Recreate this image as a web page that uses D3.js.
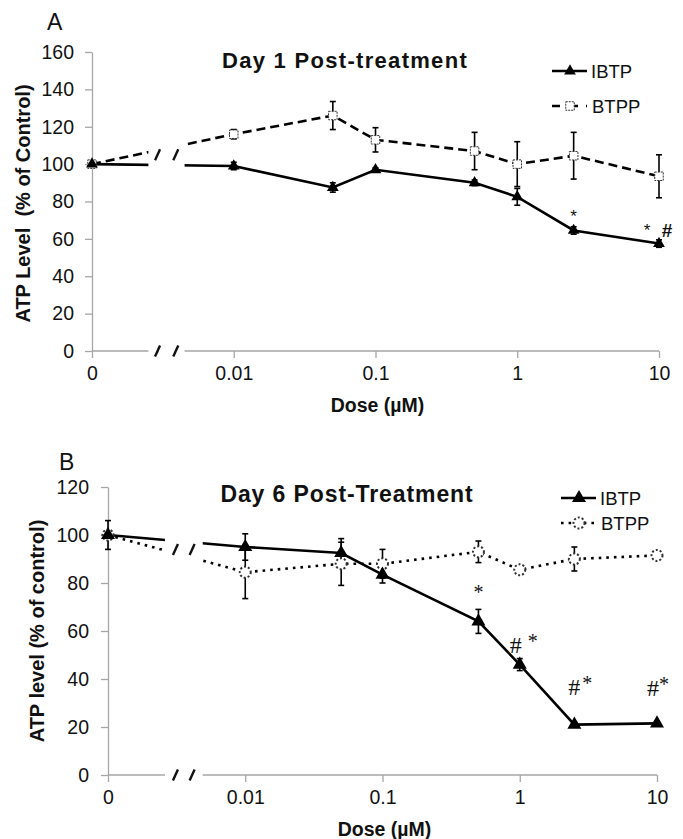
<!DOCTYPE html>
<html>
<head>
<meta charset="utf-8">
<script src="https://cdn.jsdelivr.net/npm/d3@7"></script>
<style>
  body { margin: 0; background: #fff; }
  text { font-family: "Liberation Sans", Arial, sans-serif; fill: #111; }
</style>
</head>
<body>
<div id="chart"></div>
<script>
var width = 683;
var height = 839;

// doses in uM; the "0" tick is drawn where 0.001 would sit on the log axis
var doses = [0, 0.01, 0.05, 0.1, 0.5, 1, 2.5, 10];
var xTicks = [0, 0.01, 0.1, 1, 10];
var xTickLabels = ["0", "0.01", "0.1", "1", "10"];

// Day 1
var ibtp1 = [100, 99, 87.5, 97, 90, 82.5, 64.5, 57.5];
var ibtp1Err = [0, 2, 2.5, 1, 1.5, 4.5, 2, 2];
var btpp1 = [100, 116, 126, 113, 107, 100, 104.5, 93.5];
var btpp1Err = [0, 2.5, 7.5, 6.5, 10, 12, 12.5, 11.5];
var yTicks1 = [0, 20, 40, 60, 80, 100, 120, 140, 160];

// Day 6
var ibtp6 = [100, 95, 92.5, 83.5, 64, 46, 21, 21.5];
var ibtp6Err = [1.5, 5.5, 6, 3.5, 5, 2.5, 1, 1];
var btpp6 = [100, 84.5, 88, 88, 93, 85.5, 90, 91.5];
var btpp6Err = [6, 11, 9, 6, 4.5, 1, 5, 1.5];
var yTicks6 = [0, 20, 40, 60, 80, 100, 120];

// significance marks: dose, text
var notes1 = [[2.5, "*"], [10, "*"]];
var notes6 = [[0.5, "*"], [1, "#"], [2.5, "#"], [10, "#"]];

var svg = d3
  .select("#chart")
  .append("svg")
  .attr("width", width)
  .attr("height", height);

function drawPanel(p) {
  var x = d3.scaleLog().domain([0.001, 10]).range([p.left, p.right]);
  var y = d3.scaleLinear().domain([0, p.yMax]).range([p.bottom, p.top]);
  var xd = function(d) { return d === 0 ? x(0.001) : x(d); };

  var g = svg.append("g");

  // y axis
  var yAxis = g.append("g")
    .attr("transform", "translate(" + p.left + ",0)")
    .call(d3.axisLeft(y).tickValues(p.yTicks).tickSize(7).tickSizeOuter(0).tickPadding(p.yPad));
  yAxis.select(".domain").attr("stroke", "#a6a6a6").attr("stroke-width", 1.3);
  yAxis.selectAll(".tick line").attr("stroke", "#a6a6a6").attr("stroke-width", 1.3);
  yAxis.selectAll(".tick text").style("font-size", "19.5px").attr("fill", "#111");

  // x axis, with a break between 0 and 0.01
  var xAxis = g.append("g")
    .attr("transform", "translate(0," + p.bottom + ")")
    .call(d3.axisBottom(x).tickValues(xTicks.map(function(d) { return d || 0.001; }))
      .tickFormat(function(d, i) { return xTickLabels[i]; })
      .tickSize(7).tickSizeOuter(0).tickPadding(8));
  xAxis.select(".domain").remove();
  xAxis.selectAll(".tick line").attr("stroke", "#a6a6a6").attr("stroke-width", 1.3);
  xAxis.selectAll(".tick text").style("font-size", "19.5px").attr("fill", "#111");
  [[0.001, p.gap[0]], [p.gap[1], 10]].forEach(function(s) {
    g.append("line")
      .attr("x1", x(s[0])).attr("x2", x(s[1]))
      .attr("y1", p.bottom).attr("y2", p.bottom)
      .attr("stroke", "#a6a6a6").attr("stroke-width", 1.3);
  });

  // clip lines at the break
  var clip = svg.append("clipPath").attr("id", p.id + "-clip");
  clip.append("rect").attr("x", 0).attr("y", 0)
    .attr("width", x(p.gap[0])).attr("height", height);
  clip.append("rect").attr("x", x(p.gap[1])).attr("y", 0)
    .attr("width", width).attr("height", height);

  var line = d3.line()
    .x(function(d, i) { return xd(doses[i]); })
    .y(function(d) { return y(d); });

  g.append("path")
    .datum(p.btpp)
    .attr("clip-path", "url(#" + p.id + "-clip)")
    .attr("d", line)
    .attr("fill", "none")
    .attr("stroke", "#000")
    .attr("stroke-width", p.btppWidth)
    .attr("stroke-dasharray", p.btppDash);

  g.append("path")
    .datum(p.ibtp)
    .attr("clip-path", "url(#" + p.id + "-clip)")
    .attr("d", line)
    .attr("fill", "none")
    .attr("stroke", "#000")
    .attr("stroke-width", 2.6);

  // break marks
  var slash = function(cx, cy) {
    g.append("line")
      .attr("x1", cx - 2.5).attr("y1", cy + 5.5)
      .attr("x2", cx + 2.5).attr("y2", cy - 5.5)
      .attr("stroke", "#111").attr("stroke-width", 2.4);
  };
  p.marks.forEach(function(m) {
    slash(x(m), p.bottom);
    slash(x(m), y(p.markLevel));
  });

  // error bars
  function errorBars(vals, errs) {
    vals.forEach(function(v, i) {
      var e = errs[i];
      if (!e) return;
      var cx = xd(doses[i]);
      var eg = g.append("g").attr("stroke", "#000").attr("stroke-width", 1.6);
      eg.append("line").attr("x1", cx).attr("x2", cx).attr("y1", y(v - e)).attr("y2", y(v + e));
      eg.append("line").attr("x1", cx - 3).attr("x2", cx + 3).attr("y1", y(v - e)).attr("y2", y(v - e));
      eg.append("line").attr("x1", cx - 3).attr("x2", cx + 3).attr("y1", y(v + e)).attr("y2", y(v + e));
    });
  }
  errorBars(p.btpp, p.btppErr);
  errorBars(p.ibtp, p.ibtpErr);

  var tri = d3.symbol().type(d3.symbolTriangle).size(p.triSize);
  var open = d3.symbol().type(p.openType).size(p.openSize);

  g.selectAll(".btpp")
    .data(p.btpp)
    .enter()
    .append("path")
    .attr("transform", function(d, i) { return "translate(" + xd(doses[i]) + "," + y(d) + ")"; })
    .attr("d", open)
    .attr("fill", "#fff")
    .attr("stroke", "#333")
    .attr("stroke-width", p.openStroke)
    .attr("stroke-dasharray", p.openDash);

  g.selectAll(".ibtp")
    .data(p.ibtp)
    .enter()
    .append("path")
    .attr("transform", function(d, i) { return "translate(" + xd(doses[i]) + "," + y(d) + ")"; })
    .attr("d", tri)
    .attr("fill", "#000");

  // legend
  var lg = g.append("g");
  lg.append("line").attr("x1", p.legX).attr("x2", p.legX + 35)
    .attr("y1", p.legY).attr("y2", p.legY)
    .attr("stroke", "#000").attr("stroke-width", 2.6);
  lg.append("path").attr("transform", "translate(" + (p.legX + 18) + "," + p.legY + ")")
    .attr("d", tri).attr("fill", "#000");
  lg.append("text").attr("x", p.legX + 39).attr("y", p.legY + 7)
    .style("font-size", "18.5px").text("IBTP");
  var y2 = p.legY + p.legGap;
  lg.append("line").attr("x1", p.legX).attr("x2", p.legX + 35)
    .attr("y1", y2).attr("y2", y2)
    .attr("stroke", "#000").attr("stroke-width", p.btppWidth)
    .attr("stroke-dasharray", p.legDash);
  lg.append("path").attr("transform", "translate(" + (p.legX + 18) + "," + y2 + ")")
    .attr("d", open).attr("fill", "#fff").attr("stroke", "#333")
    .attr("stroke-width", p.openStroke).attr("stroke-dasharray", p.openDash);
  lg.append("text").attr("x", p.legX + 40).attr("y", y2 + 7)
    .style("font-size", "18.5px").text("BTPP");

  // title and labels
  g.append("text")
    .attr("x", p.titleX).attr("y", p.top + p.titleDy)
    .attr("text-anchor", "middle")
    .style("font-size", p.titleSize + "px").style("font-weight", "bold")
    .style("letter-spacing", p.titleSpacing + "px")
    .text(p.title);

  g.append("text")
    .attr("x", p.letterX).attr("y", p.letterY)
    .style("font-size", "23px")
    .text(p.letter);

  g.append("text")
    .attr("transform", "translate(" + p.yLabelX + "," + ((p.top + p.bottom) / 2 + p.yLabelDy) + ") rotate(-90)")
    .attr("text-anchor", "middle")
    .style("font-size", p.yLabelSize + "px").style("font-weight", "bold")
    .style("white-space", "pre")
    .text(p.yLabel);

  g.append("text")
    .attr("x", (x(0.001) + x(10)) / 2 + 2).attr("y", p.bottom + p.xLabelDy)
    .attr("text-anchor", "middle")
    .style("font-size", "19.5px").style("font-weight", "bold")
    .text("Dose (\u00b5M)");

  p.drawNotes(g, x, y);
}

drawPanel({
  id: "a", left: 92, right: 659, top: 52, bottom: 351, yMax: 160, yTicks: yTicks1, yPad: 11,
  gap: [0.0025, 0.0045], marks: [0.0029, 0.0039], markLevel: 105,
  ibtp: ibtp1, ibtpErr: ibtp1Err, btpp: btpp1, btppErr: btpp1Err,
  btppWidth: 2.6, btppDash: "9,5", legDash: "8,10,0,0,8",
  triSize: 60, openType: d3.symbolSquare, openSize: 72, openStroke: 1, openDash: "2,1",
  legX: 552, legY: 71, legGap: 35,
  title: "Day 1 Post-treatment", titleX: 345, titleDy: 16, titleSize: 22, titleSpacing: 1.3,
  letter: "A", letterX: 47, letterY: 30,
  yLabel: "ATP Level  (% of Control)", yLabelX: 30, yLabelSize: 20, yLabelDy: 2,
  xLabelDy: 61,
  drawNotes: function(g, x, y) {
    notes1.forEach(function(n) {
      var i = doses.indexOf(n[0]);
      g.append("text")
        .attr("x", x(n[0]) + (n[0] === 10 ? -12 : 0))
        .attr("y", y(ibtp1[i]) - 8)
        .attr("text-anchor", "middle")
        .style("font-size", "17px")
        .text(n[1]);
    });
    g.append("text")
      .attr("x", x(10) + 8).attr("y", y(ibtp1[7]) - 7)
      .attr("text-anchor", "middle")
      .style("font-size", "19px").style("font-weight", "bold")
      .text("#");
  }
});

drawPanel({
  id: "b", left: 108, right: 657, top: 487, bottom: 775, yMax: 120, yTicks: yTicks6, yPad: 12,
  gap: [0.0026, 0.0049], marks: [0.0031, 0.0041], markLevel: 94,
  ibtp: ibtp6, ibtpErr: ibtp6Err, btpp: btpp6, btppErr: btpp6Err,
  btppWidth: 2.6, btppDash: "2.6,5", legDash: "2.6,5",
  triSize: 85, openType: d3.symbolCircle, openSize: 95, openStroke: 2, openDash: "2,2",
  legX: 561, legY: 498, legGap: 25,
  title: "Day 6 Post-Treatment", titleX: 347, titleDy: 15, titleSize: 23, titleSpacing: 0.9,
  letter: "B", letterX: 59, letterY: 470,
  yLabel: "ATP level (% of control)", yLabelX: 44, yLabelSize: 20, yLabelDy: 0,
  xLabelDy: 61,
  drawNotes: function(g, x, y) {
    // "*" alone at 0.5, "# *" pairs after
    var offs = { 0.5: [0, -22], 1: [-4, -12], 2.5: [0, -30], 10: [-4, -27] };
    notes6.forEach(function(n) {
      var i = doses.indexOf(n[0]);
      var o = offs[n[0]];
      var cx = x(n[0]) + o[0];
      var cy = y(ibtp6[i]) + o[1];
      if (n[1] === "*") {
        g.append("text").attr("x", cx).attr("y", cy)
          .attr("text-anchor", "middle")
          .style("font-family", "Liberation Serif, serif").style("font-size", "20px")
          .text("*");
      } else {
        var sep = n[0] === 1 ? 17 : (n[0] === 2.5 ? 13 : 11);
        g.append("text").attr("x", cx).attr("y", cy)
          .attr("text-anchor", "middle")
          .style("font-family", "Liberation Serif, serif").style("font-size", "24px")
          .text("#");
        g.append("text").attr("x", cx + sep).attr("y", cy - 5)
          .attr("text-anchor", "middle")
          .style("font-family", "Liberation Serif, serif").style("font-size", "20px")
          .text("*");
      }
    });
  }
});
</script>
</body>
</html>
